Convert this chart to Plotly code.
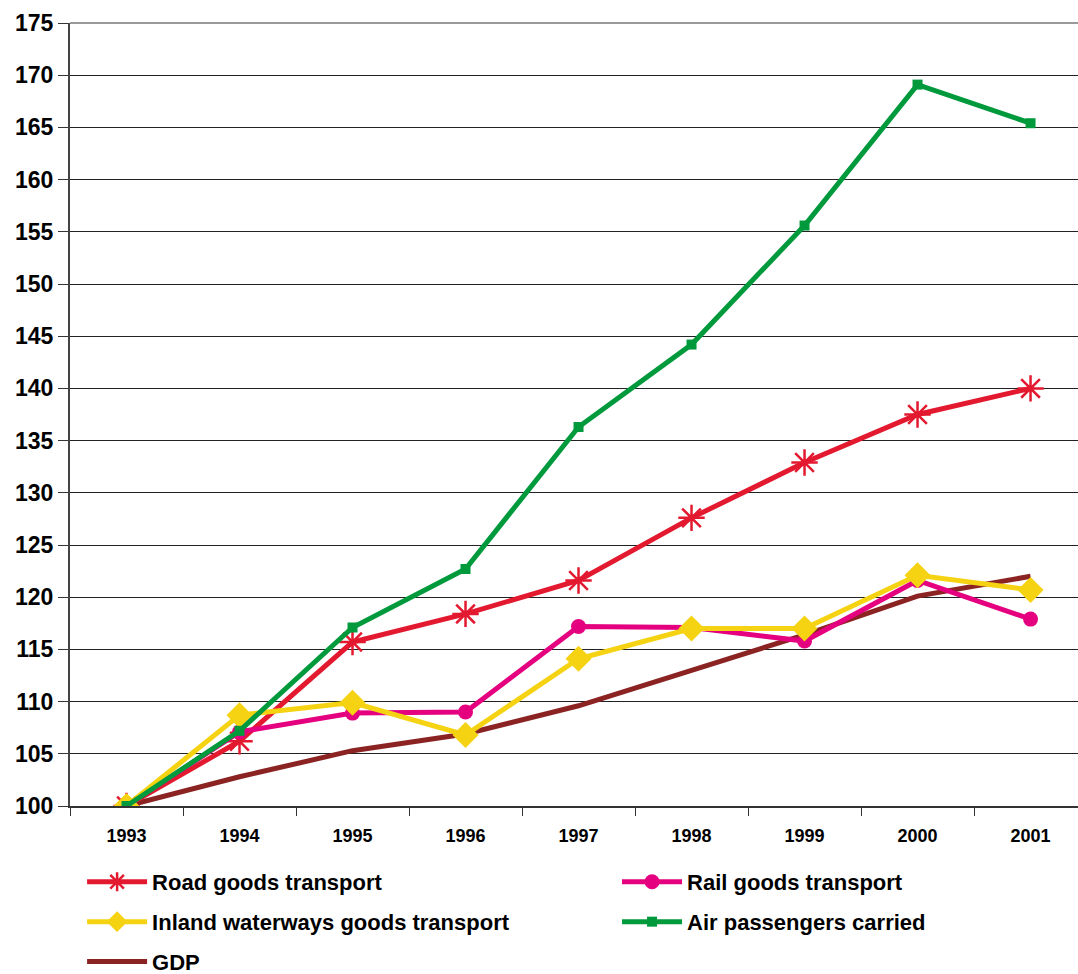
import plotly.graph_objects as go

years = ["1993", "1994", "1995", "1996", "1997", "1998", "1999", "2000", "2001"]
road = [100, 106.2, 115.7, 118.4, 121.6, 127.6, 132.9, 137.5, 140.0]
rail = [100, 107.1, 108.9, 109.0, 117.2, 117.1, 115.8, 121.6, 117.9]
inland = [100, 108.7, 109.9, 106.8, 114.1, 117.0, 117.0, 122.1, 120.7]
air = [100, 107.2, 117.1, 122.7, 136.3, 144.2, 155.6, 169.1, 165.4]
gdp = [100, 102.8, 105.3, 106.9, 109.6, 113.0, 116.4, 120.1, 122.0]
y_ticks = list(range(100, 180, 5))

FONT = "Liberation Sans, Arial"

fig = go.Figure()
fig.add_trace(go.Scatter(x=years, y=gdp, name="GDP", mode="lines",
                         line=dict(color="#8B2323", width=5), legend="legend5"))
fig.add_trace(go.Scatter(x=years, y=road, name="Road goods transport", mode="lines+markers",
                         line=dict(color="#E3192F", width=5),
                         marker=dict(symbol="asterisk", size=22, color="#E3192F",
                                     line=dict(color="#E3192F", width=2.5)), legend="legend"))
fig.add_trace(go.Scatter(x=years, y=rail, name="Rail goods transport", mode="lines+markers",
                         line=dict(color="#E4007F", width=5),
                         marker=dict(symbol="circle", size=15, color="#E4007F"), legend="legend2"))
fig.add_trace(go.Scatter(x=years, y=inland, name="Inland waterways goods transport", mode="lines+markers",
                         line=dict(color="#F5D312", width=5),
                         marker=dict(symbol="diamond", size=20, color="#F5D312"), legend="legend3"))
fig.add_trace(go.Scatter(x=years, y=air, name="Air passengers carried", mode="lines+markers",
                         line=dict(color="#009A3D", width=5),
                         marker=dict(symbol="square", size=10, color="#009A3D"), legend="legend4"))

legend_common = dict(orientation="h", xanchor="left", yanchor="middle", itemwidth=60,
                     font=dict(family=FONT, size=22, color="black", weight="bold"),
                     bgcolor="rgba(0,0,0,0)")
col1, col2 = 0.012, 0.5427
row1, row2, row3 = -0.097, -0.148, -0.199

fig.update_layout(
    width=1078, height=974,
    margin=dict(l=70, r=0, t=23, b=168, autoexpand=False),
    plot_bgcolor="white", paper_bgcolor="white",
    font=dict(family=FONT, color="black"),
    showlegend=True,
    legend=dict(legend_common, x=col1, y=row1),
    legend2=dict(legend_common, x=col2, y=row1),
    legend3=dict(legend_common, x=col1, y=row2),
    legend4=dict(legend_common, x=col2, y=row2),
    legend5=dict(legend_common, x=col1, y=row3),
    xaxis=dict(type="category", range=[-0.5, 8.42], showgrid=False,
               ticks="outside", tickson="boundaries", ticklen=8, tickcolor="#333",
               showline=True, linecolor="#333", linewidth=2,
               ticklabelstandoff=12,
               tickfont=dict(family=FONT, size=18, weight="bold", color="black")),
    yaxis=dict(range=[100, 175], tickvals=y_ticks, showgrid=True, gridcolor="#222", gridwidth=1,
               ticks="outside", ticklen=10, tickcolor="#333",
               showline=True, linecolor="#444", linewidth=2, zeroline=False,
               tickfont=dict(family=FONT, size=23, weight="bold", color="black")),
    shapes=[dict(type="line", xref="paper", yref="paper", x0=0, x1=1, y0=1, y1=1,
                 line=dict(color="#999", width=2))],
)

fig.write_html("out.html")
